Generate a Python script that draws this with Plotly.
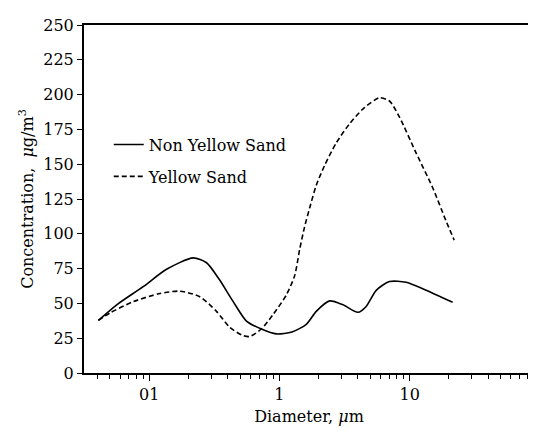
import plotly.graph_objects as go

# Non Yellow Sand (solid)
non_d = [0.0408, 0.0564, 0.0900, 0.136, 0.218, 0.276, 0.344, 0.442, 0.559, 0.728, 0.948, 1.25, 1.61, 1.92, 2.43, 3.08, 4.01, 4.64, 5.54, 7.0, 9.4, 12.6, 21.4]
non_c = [37.8, 49.0, 62.0, 74.5, 82.7, 79.2, 67.5, 51.3, 37.3, 31.6, 28.1, 29.5, 35.0, 44.3, 51.8, 49.0, 43.6, 47.8, 59.4, 65.7, 65.2, 60.6, 50.8]

# Yellow Sand (dashed)
ys_d = [0.0408, 0.050, 0.0757, 0.121, 0.172, 0.245, 0.329, 0.417, 0.527, 0.592, 0.728, 0.895, 1.13, 1.31, 1.43, 1.56, 1.71, 1.92, 2.22, 2.73, 3.46, 4.5, 5.87, 7.0, 8.36, 11.2, 15.1, 19.0, 22.0]
ys_c = [37.8, 43.1, 51.3, 57.1, 58.8, 54.8, 44.3, 32.7, 26.9, 26.2, 31.6, 42.0, 56.0, 69.9, 88.5, 104.8, 118.7, 134.9, 148.9, 165.2, 179.1, 190.7, 197.7, 195.4, 183.8, 158.2, 132.7, 109.4, 95.5]

x_tickvals = [0.1, 1, 10]
x_ticktext = ["01", "1", "10"]
x_minor = [m * 10 ** e for e in (-2, -1, 0, 1) for m in range(2, 10) if 0.035 < m * 10 ** e < 95]
y_ticks = [0, 25, 50, 75, 100, 125, 150, 175, 200, 225, 250]

FONT = "DejaVu Serif"
FS = 16

fig = go.Figure()
fig.add_trace(go.Scatter(x=non_d, y=non_c, mode="lines", name="Non Yellow Sand",
                         line=dict(color="black", width=1.6, shape="spline", smoothing=0.7),
                         legendgroup="a"))
fig.add_trace(go.Scatter(x=ys_d, y=ys_c, mode="lines", name="Yellow Sand",
                         line=dict(color="black", width=1.6, dash="5px,3px", shape="spline", smoothing=0.7),
                         legendgroup="b"))

fig.update_layout(
    width=536, height=431,
    margin=dict(l=76, r=8, t=15, b=66),
    paper_bgcolor="white", plot_bgcolor="white",
    font=dict(family=FONT, size=FS, color="black"),
    showlegend=True,
    legend=dict(x=0.055, y=0.705, xanchor="left", yanchor="top",
                bgcolor="rgba(0,0,0,0)", tracegroupgap=8,
                traceorder="grouped", font=dict(family=FONT, size=FS)),
    xaxis=dict(type="log", range=[-1.5, 1.955],
               tickmode="array", tickvals=x_tickvals, ticktext=x_ticktext,
               ticks="outside", ticklen=6, tickwidth=1.3, tickcolor="black",
               minor=dict(tickmode="array", tickvals=x_minor, ticks="outside",
                          ticklen=4, tickwidth=1, tickcolor="black", showgrid=False),
               showline=True, linecolor="black", linewidth=2, mirror=True,
               showgrid=False, zeroline=False,
               title=dict(text="Diameter, <i>μ</i>m", font=dict(family=FONT, size=FS), standoff=8),
               tickfont=dict(family=FONT, size=FS)),
    yaxis=dict(range=[0, 250], tickmode="array", tickvals=y_ticks,
               ticks="outside", ticklen=5, tickwidth=1.3, tickcolor="black",
               showline=True, linecolor="black", linewidth=2, mirror=True,
               showgrid=False, zeroline=False,
               title=dict(text="Concentration,  <i>μ</i>g/m<sup>3</sup>", font=dict(family=FONT, size=FS), standoff=6),
               tickfont=dict(family=FONT, size=FS)),
)

fig.write_html("out.html")
